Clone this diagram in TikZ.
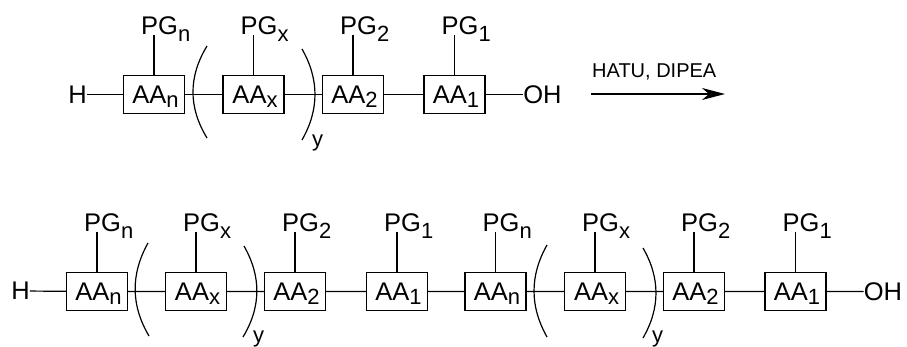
\documentclass[tikz,border=0pt]{standalone}
\usepackage{fontspec}
\setmainfont{Liberation Sans}
\usetikzlibrary{arrows.meta}
\newcommand{\subs}[1]{\raisebox{-7pt}[0pt][0pt]{\fontsize{22}{22}\selectfont #1}}
\newcommand{\boxsub}[1]{\raisebox{-4pt}[0pt][0pt]{\fontsize{22}{22}\selectfont #1}}
\tikzset{
  aa/.style={draw, line width=1.2pt, minimum width=61pt, minimum height=38pt, inner sep=0pt, font=\fontsize{25.5}{25.5}\selectfont},
  pg/.style={anchor=base west, inner sep=0pt, font=\fontsize{25.5}{25.5}\selectfont},
  term/.style={inner sep=0pt, font=\fontsize{25.5}{25.5}\selectfont},
  idx/.style={anchor=base west, inner sep=0pt, font=\fontsize{22}{22}\selectfont},
  bond/.style={line width=1.2pt},
}
\begin{document}
\begin{tikzpicture}[x=1pt, y=-1pt]
  \useasboundingbox (0,0) rectangle (907,347);
  % starting peptide
  \node[term] (h1) at (77.5,94.5) {H};
  \node[aa] (a1n) at (154,94.5) {\kern3pt AA\boxsub{n}};
  \node[aa] (a1x) at (253.5,94.5) {\kern3pt AA\boxsub{x}};
  \node[aa] (a12) at (353,94.5) {\kern3pt AA\boxsub{2}};
  \node[aa] (a11) at (454.5,94.5) {\kern3pt AA\boxsub{1}};
  \node[term] (oh1) at (542.5,94.5) {OH};
  \draw[bond] (h1) -- (a1n) -- (a1x) -- (a12) -- (a11) -- (oh1);
  \foreach \b/\s in {a1n/n, a1x/x, a12/2, a11/1} {
    \node[pg] (pg\b) at ([xshift=-13pt, yshift=40pt]\b.north) {PG\subs{\s}};
    \draw[bond] (\b.north) -- (\b.north |- pg\b.base);
  }
  \draw[bond] (207,46) .. controls (188.3,76.7) and (188.3,107.3) .. (207,138);
  \draw[bond] (302,49) .. controls (319.3,79.3) and (319.3,109.7) .. (302,140);
  \node[idx] (y1) at (312,146.4) {y};
  % reagents
  \coordinate (arrL) at (591,94);
  \coordinate (arrR) at (725,94);
  \draw[line width=1.5pt, -{Stealth[length=23pt, width=12pt, inset=7pt]}] (arrL) -- (arrR);
  \node[anchor=base west, inner sep=0pt, font=\fontsize{20}{20}\selectfont] (reag) at (592,78) {HATU, DIPEA};
  % coupled product
  \node[term] (h2) at (20.5,291) {H};
  \node[aa] (b1) at (97,291.5) {\kern3pt AA\boxsub{n}};
  \node[aa] (b2) at (196,291.5) {\kern3pt AA\boxsub{x}};
  \node[aa] (b3) at (295,291.5) {\kern3pt AA\boxsub{2}};
  \node[aa] (b4) at (397,291.5) {\kern3pt AA\boxsub{1}};
  \node[aa] (b5) at (495.5,291.5) {\kern3pt AA\boxsub{n}};
  \node[aa] (b6) at (595,291.5) {\kern3pt AA\boxsub{x}};
  \node[aa] (b7) at (694,291.5) {\kern3pt AA\boxsub{2}};
  \node[aa] (b8) at (795.5,291.5) {\kern3pt AA\boxsub{1}};
  \node[term] (oh2) at (883,291.5) {OH};
  \draw[bond] (h2) -- (b1) -- (b2) -- (b3) -- (b4) -- (b5) -- (b6) -- (b7) -- (b8) -- (oh2);
  \foreach \b/\s in {b1/n, b2/x, b3/2, b4/1, b5/n, b6/x, b7/2, b8/1} {
    \node[pg] (pg\b) at ([xshift=-13pt, yshift=40pt]\b.north) {PG\subs{\s}};
    \draw[bond] (\b.north) -- (\b.north |- pg\b.base);
  }
  \draw[bond] (148,243) .. controls (130.7,274) and (130.7,305) .. (149,336);
  \draw[bond] (244,246) .. controls (261.3,276.3) and (261.3,306.7) .. (243,337);
  \draw[bond] (547,245) .. controls (529.7,275.7) and (529.7,306.3) .. (547,337);
  \draw[bond] (643,248) .. controls (660.3,278) and (660.3,308) .. (643,338);
  \node[idx] (y2) at (253,342) {y};
  \node[idx] (y3) at (652,342) {y};
\end{tikzpicture}
\end{document}
